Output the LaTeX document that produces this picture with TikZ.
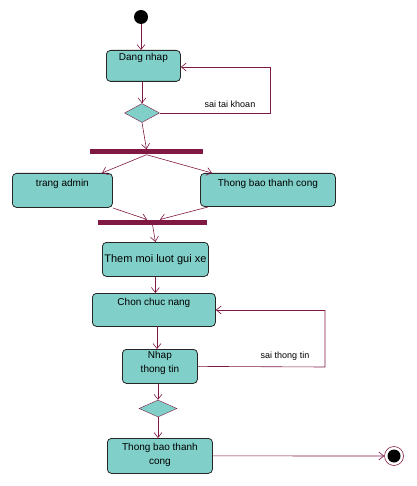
\documentclass[tikz,border=0pt]{standalone}
\usepackage{fontspec}
\setmainfont{Liberation Sans}
\usetikzlibrary{arrows.meta,shapes.geometric}

\definecolor{boxfill}{RGB}{128,207,200}
\definecolor{flowline}{RGB}{128,24,68}
\tikzset{
  actbox/.style={draw=black!85, line width=0.8pt, fill=boxfill, rounded corners=4pt, anchor=north west,
    inner sep=0pt, align=center, font=\fontsize{10}{13.5}\selectfont},
  choice/.style={shape=diamond, draw=flowline, fill=boxfill, inner sep=0pt},
  syncbar/.style={fill=flowline, draw=none, inner sep=0pt, minimum height=5pt},
  flow/.style={draw=flowline, line width=0.6pt, -{Straight Barb[length=5pt,width=8pt]}},
  guard/.style={font=\fontsize{9}{11}\selectfont}
}

\begin{document}
\begin{tikzpicture}[x=1pt, y=-1pt]
  \useasboundingbox (0,0) rectangle (416,486);

  % start and login
  \node[circle, fill=black, minimum size=14pt, inner sep=0pt] (start) at (141,17) {};
  \node[actbox, minimum width=74pt, minimum height=31pt, text height=10pt, text depth=21pt]
    (login) at (106,50) {Dang nhap};
  \node[choice, minimum width=35pt, minimum height=19pt] (check1) at (142,113) {};

  % fork
  \node[syncbar, minimum width=113pt] (fork) at (146.5,152) {};
  \node[actbox, minimum width=100pt, minimum height=34pt, text height=13.5pt, text depth=20.5pt]
    (admin) at (12,173) {trang admin};
  \node[actbox, minimum width=135pt, minimum height=33pt, text height=13.5pt, text depth=19.5pt]
    (okmsg) at (200,173) {Thong bao thanh cong};

  % join
  \node[syncbar, minimum width=109pt] (join) at (152.5,222) {};
  \node[actbox, minimum width=106pt, minimum height=34pt, text height=20pt, text depth=14pt,
    font=\fontsize{11}{13}\selectfont] (addnew) at (102,242) {Them moi luot gui xe};

  % main loop
  \node[actbox, minimum width=123pt, minimum height=33pt, text height=12.5pt, text depth=20.5pt]
    (menu) at (92,293) {Chon chuc nang};
  \node[actbox, minimum width=75pt, minimum height=34pt, text height=23pt, text depth=11pt]
    (input) at (122,349) {Nhap\\thong tin};
  \node[choice, minimum width=38pt, minimum height=17pt] (check2) at (158,408.5) {};
  \node[actbox, minimum width=105pt, minimum height=35pt, text height=26pt, text depth=9pt]
    (done) at (107,438) {Thong bao thanh\\cong};

  % end
  \node[circle, draw=flowline, line width=0.6pt, minimum size=19pt, inner sep=0pt,
    path picture={\fill[black] (path picture bounding box.center) circle (6.5pt);}]
    (stop) at (394,456) {};

  % connectors
  \draw[flow] (start) -- (login.north -| start);
  \draw[flow] (login.south -| check1) -- (check1.north);
  \draw[flow] (check1.south) -- (fork.north);
  \draw[flowline, line width=0.6pt] (check1.east) -- (270,113) -- (270,67);
  \draw[flow] (270,67) -- (login.east |- 0,67);
  \node[guard] (badlogin) at (230,104) {sai tai khoan};

  \draw[flow] (fork.south) -- (102,173);
  \draw[flow] (fork.south) -- (212,173);
  \draw[flow] (113,208) -- (147,219.5);
  \draw[flow] (208,207) -- (160,219.5);
  \draw[flow] (join.south) -- (addnew.north);
  \draw[flow] (addnew.south) -- (menu.north -| addnew.south);
  \draw[flow] (157,326) -- (157,349);
  \draw[flowline, line width=0.6pt] (input.east) -- (325,367) -- (325,310);
  \draw[flow] (325,310) -- (menu.east |- 0,310);
  \node[guard] (badinput) at (285,356) {sai thong tin};
  \draw[flow] (input.south -| check2) -- (check2.north);
  \draw[flow] (check2.south) -- (done.north -| check2);
  \draw[flow] (done.east) -- (stop);
\end{tikzpicture}
\end{document}
